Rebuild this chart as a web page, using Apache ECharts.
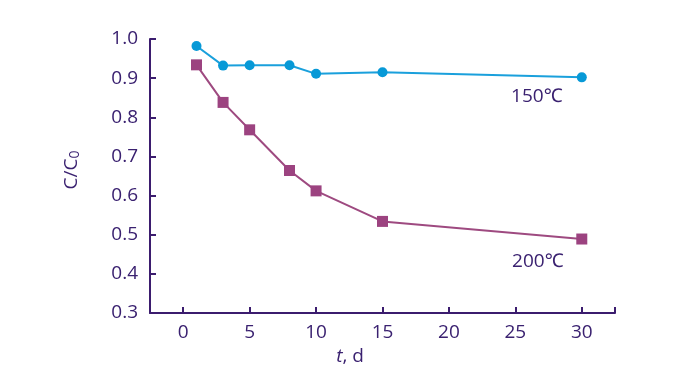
<!DOCTYPE html>
<html>
<head>
<meta charset="utf-8">
<script src="https://cdn.jsdelivr.net/npm/echarts@6/dist/echarts.min.js"></script>
<style>html,body{margin:0;padding:0;background:#fff}#c{width:683px;height:375px}</style>
</head>
<body>
<div id="c"></div>
<script>
var days = [1, 3, 5, 8, 10, 15, 30];
var c150 = [0.982, 0.932, 0.933, 0.933, 0.911, 0.915, 0.902];
var c200 = [0.934, 0.838, 0.768, 0.664, 0.612, 0.534, 0.489];
var label150 = '150℃';
var label200 = '200℃';

var axisColor = '#3b1c6e';
var textColor = '#3a2170';
var fontFam = '"Open Sans", "Noto Sans", sans-serif';

function mk(vals, lbl, off) {
  return days.map(function (d, i) {
    var item = { value: [d, vals[i]] };
    if (i === days.length - 1) {
      item.label = { show: true, formatter: lbl, position: 'inside', offset: off,
        color: textColor, fontSize: 19, fontFamily: fontFam };
    }
    return item;
  });
}

var chart = echarts.init(document.getElementById('c'), null, { renderer: 'canvas' });
chart.setOption({
  animation: false,
  grid: { left: 150, right: 68, top: 39, bottom: 62 },
  xAxis: {
    type: 'value', min: -2.5, max: 32.5, splitNumber: 7,
    name: '{i|t}, d', nameLocation: 'middle', nameGap: 34,
    nameTextStyle: { color: textColor, fontSize: 19, fontFamily: fontFam, padding: [0, 65, 0, 0],
      rich: { i: { fontStyle: 'italic', fontSize: 19, fontFamily: fontFam, color: textColor } } },
    axisLine: { onZero: false, lineStyle: { color: axisColor, width: 2 } },
    axisTick: { inside: true, length: 6, lineStyle: { color: axisColor, width: 2 } },
    axisLabel: { color: textColor, fontSize: 19, fontFamily: fontFam, margin: 10,
      formatter: function (v) { return (Math.abs(v % 5) < 1e-9) ? String(v) : ''; } },
    splitLine: { show: false }
  },
  yAxis: {
    type: 'value', min: 0.3, max: 1.0, interval: 0.1,
    name: 'C/C{s|0}', nameLocation: 'middle', nameGap: 68, nameRotate: 90,
    nameTextStyle: { color: textColor, fontSize: 19, fontFamily: fontFam, padding: [0, 0, 0, 12],
      rich: { s: { fontSize: 14, fontFamily: fontFam, color: textColor, verticalAlign: 'bottom', padding: [6, 0, 0, 0] } } },
    axisLine: { onZero: false, lineStyle: { color: axisColor, width: 2 } },
    axisTick: { inside: true, length: 6, lineStyle: { color: axisColor, width: 2 } },
    axisLabel: { color: textColor, fontSize: 19, fontFamily: fontFam, margin: 12,
      formatter: function (v) { return v.toFixed(1); } },
    splitLine: { show: false }
  },
  series: [
    {
      type: 'line', data: mk(c150, label150, [-45, 19]),
      symbol: 'circle', symbolSize: 10,
      lineStyle: { color: '#1aa0dc', width: 2 },
      itemStyle: { color: '#0799d7' }
    },
    {
      type: 'line', data: mk(c200, label200, [-44, 23]),
      symbol: 'rect', symbolSize: 11,
      lineStyle: { color: '#9e4a80', width: 2 },
      itemStyle: { color: '#9c4380' }
    }
  ]
});
</script>
</body>
</html>
